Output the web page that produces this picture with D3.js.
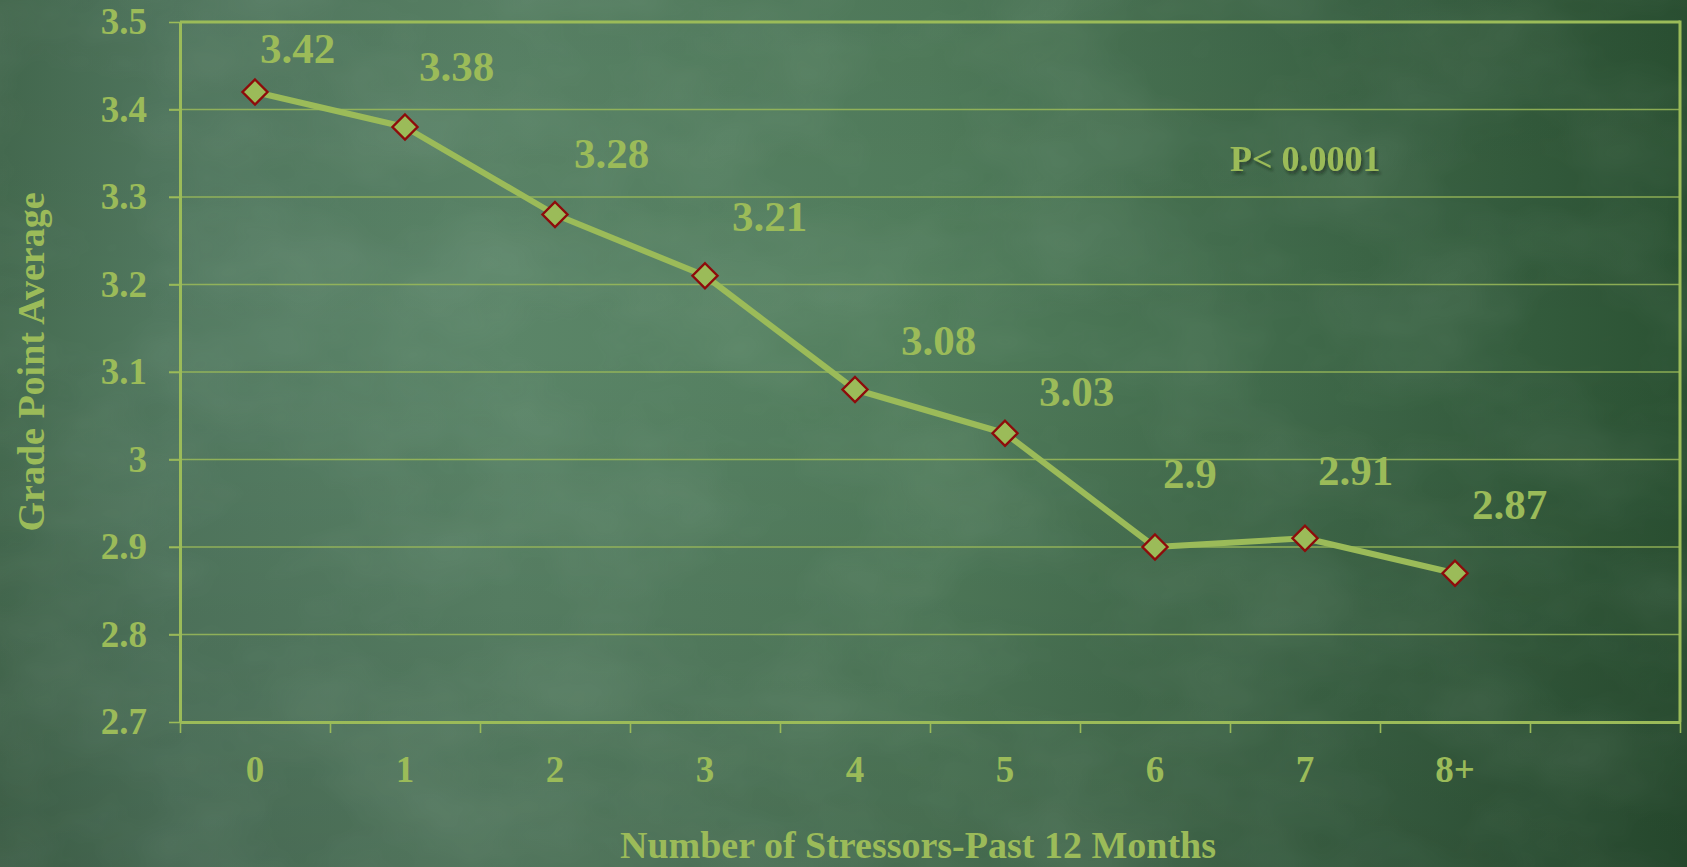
<!DOCTYPE html>
<html>
<head>
<meta charset="utf-8">
<script src="https://cdn.jsdelivr.net/npm/d3@7"></script>
<style>
  html, body { margin: 0; padding: 0; overflow: hidden; background: #4f7a5c; }
  svg { display: block; }
  text { font-family: "Liberation Serif", "Times New Roman", serif; font-weight: bold; }
</style>
</head>
<body>
<svg id="chart" width="1687" height="867"></svg>
<script>
// Stressor counts on the x axis and mean GPA for each group
const categories = ["0", "1", "2", "3", "4", "5", "6", "7", "8+"];
const gpa = [3.42, 3.38, 3.28, 3.21, 3.08, 3.03, 2.9, 2.91, 2.87];
const yTicks = [2.7, 2.8, 2.9, 3.0, 3.1, 3.2, 3.3, 3.4, 3.5];
const yTickLabels = ["2.7", "2.8", "2.9", "3", "3.1", "3.2", "3.3", "3.4", "3.5"];

// Hand placement of each value label relative to its marker (px)
const labelNudge = [[5, -29], [14, -46], [19, -47], [27, -45], [46, -35], [34, -27], [8, -59], [13, -53], [17, -54]];

const W = 1687, H = 867;
const plot = { left: 180, right: 1680, top: 22, bottom: 722 };
const slots = 10; // nine categories plus one empty slot at the right
const green = "#9bbb59";
const markerEdge = "#8e0b0b";

const svg = d3.select("#chart");
const defs = svg.append("defs");

// Chalkboard background
const bg = defs.append("linearGradient").attr("id", "board").attr("x1", 0).attr("x2", 1).attr("y1", 0).attr("y2", 0);
[[0, "#456b50"], [0.1, "#527960"], [0.3, "#5b8568"], [0.55, "#527e5d"], [0.8, "#3d6647"], [1, "#2b5233"]]
  .forEach(([o, c]) => bg.append("stop").attr("offset", o).attr("stop-color", c));
const shade = defs.append("linearGradient").attr("id", "shade").attr("x1", 0).attr("x2", 0).attr("y1", 0).attr("y2", 1);
[[0, "#000", 0.05], [0.4, "#000", 0], [1, "#000", 0.14]]
  .forEach(([o, c, a]) => shade.append("stop").attr("offset", o).attr("stop-color", c).attr("stop-opacity", a));

// Soft mottling of the board surface
const grain = defs.append("filter").attr("id", "grain").attr("x", 0).attr("y", 0).attr("width", "100%").attr("height", "100%");
grain.append("feTurbulence").attr("type", "fractalNoise").attr("baseFrequency", "0.006 0.009").attr("numOctaves", 4).attr("seed", 11).attr("result", "n");
grain.append("feColorMatrix").attr("in", "n").attr("type", "matrix")
  .attr("values", "0 0 0 0 0.8  0 0 0 0 0.95  0 0 0 0 0.85  0 0 0 0.35 -0.12");

const shadow = defs.append("filter").attr("id", "tshadow").attr("x", "-10%").attr("y", "-30%").attr("width", "130%").attr("height", "160%");
shadow.append("feDropShadow").attr("dx", 2).attr("dy", 3).attr("stdDeviation", 1.5).attr("flood-color", "#0d2414").attr("flood-opacity", 0.55);

svg.append("rect").attr("width", W).attr("height", H).attr("fill", "url(#board)");
svg.append("rect").attr("width", W).attr("height", H).attr("fill", "url(#shade)");
svg.append("rect").attr("width", W).attr("height", H).attr("filter", "url(#grain)").attr("opacity", 0.4);

// Scales
const x = d3.scaleLinear().domain([0, slots]).range([plot.left, plot.right]);
const y = d3.scaleLinear().domain([2.7, 3.5]).range([plot.bottom, plot.top]);
const cx = i => x(i + 0.5);

// Horizontal gridlines
svg.append("g").selectAll("line").data(yTicks.slice(1, -1)).join("line")
  .attr("x1", plot.left - 11).attr("x2", plot.right)
  .attr("y1", d => y(d)).attr("y2", d => y(d))
  .attr("stroke", green).attr("stroke-width", 1.4).attr("opacity", 0.85);

// Y axis
const yAxis = svg.append("g").attr("transform", `translate(${plot.left},0)`)
  .call(d3.axisLeft(y).tickValues(yTicks).tickSize(11).tickSizeOuter(0).tickPadding(22)
    .tickFormat((d, i) => yTickLabels[i]));
yAxis.select(".domain").attr("stroke", green).attr("stroke-width", 3);
yAxis.selectAll(".tick line").attr("stroke", green).attr("stroke-width", 1.6);
yAxis.selectAll(".tick text").attr("fill", green).attr("font-size", 37)
  .attr("font-family", "Liberation Serif, Times New Roman, serif").attr("font-weight", "bold");

// X axis
const xAxis = svg.append("g").attr("transform", `translate(0,${plot.bottom})`)
  .call(d3.axisBottom(x).tickValues(d3.range(slots + 1)).tickSize(11).tickSizeOuter(0).tickFormat(""));
xAxis.select(".domain").attr("stroke", green).attr("stroke-width", 3.2);
xAxis.selectAll(".tick line").attr("stroke", green).attr("stroke-width", 1.6);

svg.append("g").selectAll("text").data(categories).join("text")
  .attr("x", (d, i) => cx(i)).attr("y", 782)
  .attr("text-anchor", "middle").attr("fill", green).attr("font-size", 37)
  .text(d => d);

// Top and right frame
svg.append("line").attr("x1", plot.left).attr("x2", plot.right).attr("y1", plot.top).attr("y2", plot.top)
  .attr("stroke", green).attr("stroke-width", 3);
svg.append("line").attr("x1", plot.right).attr("x2", plot.right).attr("y1", plot.top - 1.5).attr("y2", plot.bottom)
  .attr("stroke", green).attr("stroke-width", 3);

// Series line
svg.append("path").datum(gpa)
  .attr("d", d3.line().x((d, i) => cx(i)).y(d => y(d)))
  .attr("fill", "none").attr("stroke", green).attr("stroke-width", 6).attr("stroke-linejoin", "round");

// Diamond markers
svg.append("g").selectAll("path").data(gpa).join("path")
  .attr("transform", (d, i) => `translate(${cx(i)},${y(d)})`)
  .attr("d", "M0,-12.5L12.5,0L0,12.5L-12.5,0Z")
  .attr("fill", green).attr("stroke", markerEdge).attr("stroke-width", 2.4);

// Value labels
svg.append("g").selectAll("text").data(gpa).join("text")
  .attr("x", (d, i) => cx(i) + labelNudge[i][0])
  .attr("y", (d, i) => y(d) + labelNudge[i][1])
  .attr("fill", green).attr("font-size", 43)
  .text(d => String(d));

// Significance note
svg.append("text").attr("x", 1230).attr("y", 171)
  .attr("fill", green).attr("font-size", 36).attr("filter", "url(#tshadow)")
  .text("P< 0.0001");

// Axis titles
svg.append("text").attr("x", 918).attr("y", 858).attr("text-anchor", "middle")
  .attr("fill", green).attr("font-size", 38)
  .text("Number of Stressors-Past 12 Months");
svg.append("text").attr("transform", "translate(44,362) rotate(-90)").attr("text-anchor", "middle")
  .attr("fill", green).attr("font-size", 38)
  .text("Grade Point Average");
</script>
</body>
</html>
